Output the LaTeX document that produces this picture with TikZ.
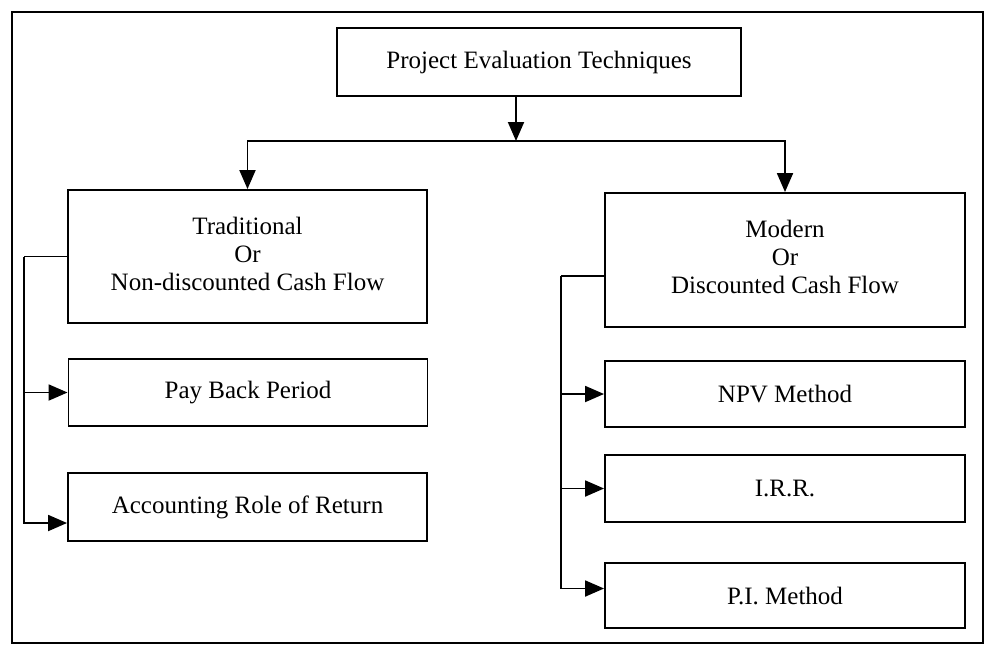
\documentclass[tikz,border=0pt]{standalone}
\usepackage{fontspec}
\setmainfont{Liberation Serif}
\usetikzlibrary{arrows.meta}
\begin{document}
\begin{tikzpicture}[x=1pt,y=-1pt,
  box/.style={draw=black,line width=1.9pt,fill=white,rectangle,inner sep=0pt,
    align=center,font=\fontsize{25}{28}\selectfont},
  link/.style={draw=black,line width=1.9pt,-{Triangle[length=19pt,width=16pt]}},
  plain/.style={draw=black,line width=1.9pt}]
  \useasboundingbox (0,0) rectangle (992,646);
  \fill[white] (0,0) rectangle (992,646);
  \draw[line width=2.4pt] (12,12) rectangle (983,643);

  % top of the tree
  \node[box,minimum width=404pt,minimum height=68pt] (title) at (539,62) {Project Evaluation Techniques};

  % the two families
  \node[box,minimum width=359pt,minimum height=133pt] (trad) at (247.5,256.5)
    {\raisebox{14pt}{\begin{tabular}{@{}c@{}}Traditional\\Or\\Non-discounted Cash Flow\end{tabular}}};
  \node[box,minimum width=360pt,minimum height=134pt] (modern) at (785,260)
    {\raisebox{14pt}{\begin{tabular}{@{}c@{}}Modern\\Or\\Discounted Cash Flow\end{tabular}}};

  % traditional methods
  \node[box,minimum width=359pt,minimum height=67pt] (pay) at (248,392.5) {Pay Back Period};
  \node[box,minimum width=359pt,minimum height=68pt] (acc) at (247.5,507) {Accounting Role of Return};

  % discounted methods
  \node[box,minimum width=360pt,minimum height=66pt] (npv) at (785,394) {NPV Method};
  \node[box,minimum width=360pt,minimum height=67pt] (irr) at (785,488.5) {I.R.R.};
  \node[box,minimum width=360pt,minimum height=65pt] (pi) at (785,595.5) {P.I. Method};

  % split below the title
  \coordinate (split) at (516,141);
  \draw[link] (title.south -| split) -- (split);
  \draw[link] (split) -| (trad.north);
  \draw[link] (split) -| (modern.north);

  % left bus
  \coordinate (lbus) at (24,0);
  \coordinate (ltop) at (trad.west -| lbus);
  \draw[plain] (trad.west) -- (ltop);
  \draw[link] (ltop) |- (pay.west);
  \draw[link] (ltop) |- ([yshift=-16pt]acc.west);

  % right bus
  \coordinate (rbus) at (561,0);
  \coordinate (rtop) at ([yshift=-16pt]modern.west -| rbus);
  \draw[plain] ([yshift=-16pt]modern.west) -- (rtop);
  \draw[link] (rtop) |- (npv.west);
  \draw[link] (rtop) |- (irr.west);
  \draw[link] (rtop) |- ([yshift=7pt]pi.west);
\end{tikzpicture}
\end{document}
